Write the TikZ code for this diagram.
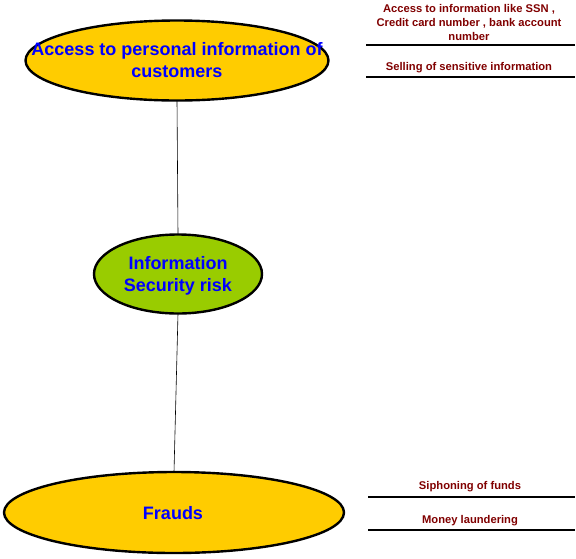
\documentclass[tikz,border=0pt]{standalone}
\usepackage{fontspec}
\setmainfont{Liberation Sans}
\usetikzlibrary{shapes.geometric}
\definecolor{ygold}{HTML}{FFCC00}
\definecolor{ygreen}{HTML}{99CC00}
\definecolor{dred}{HTML}{800000}
\tikzset{
  bubble/.style={ellipse, draw=black, line width=2.4pt, inner sep=0pt, outer sep=0pt},
  bubbletext/.style={text=blue, font=\bfseries\fontsize{18}{22}\selectfont, align=center, inner sep=0pt},
  note/.style={text=dred, font=\bfseries\fontsize{11.2}{14}\selectfont, align=center, inner sep=0pt},
  rule/.style={line width=2pt},
  link/.style={line width=0.6pt}
}
\begin{document}
\begin{tikzpicture}[x=1pt,y=-1pt]
\useasboundingbox (0,0) rectangle (576,558);
\node[bubble, fill=ygold, minimum width=303pt, minimum height=80pt] (top) at (177,60.5) {};
\node[bubble, fill=ygreen, minimum width=168pt, minimum height=79pt] (mid) at (178,274) {};
\node[bubble, fill=ygold, minimum width=340pt, minimum height=81pt] (bot) at (174,512.5) {};
\node[bubbletext] (toptext) at (177,60.5) {Access to personal information of\\customers};
\node[bubbletext] (midtext) at (178,275.5) {Information\\Security risk};
\node[bubbletext] (bottext) at (173,513) {Frauds};
\draw[link] (top.south) -- (mid.north);
\draw[link] (mid.south) -- (bot.north);
\coordinate (l1a) at (366,45); \coordinate (l1b) at (575,45);
\coordinate (l2a) at (366,77); \coordinate (l2b) at (575,77);
\coordinate (l3a) at (368,497); \coordinate (l3b) at (575,497);
\coordinate (l4a) at (368,530); \coordinate (l4b) at (575,530);
\draw[rule] (l1a) -- (l1b);
\draw[rule] (l2a) -- (l2b);
\draw[rule] (l3a) -- (l3b);
\draw[rule] (l4a) -- (l4b);
\node[note] (n1) at (469,22) {Access to information like SSN ,\\Credit card number , bank account\\number};
\node[note] (n2) at (469,68) {Selling of sensitive information};
\node[note] (n3) at (470,487) {Siphoning of funds};
\node[note] (n4) at (470,521) {Money laundering};
\end{tikzpicture}
\end{document}
